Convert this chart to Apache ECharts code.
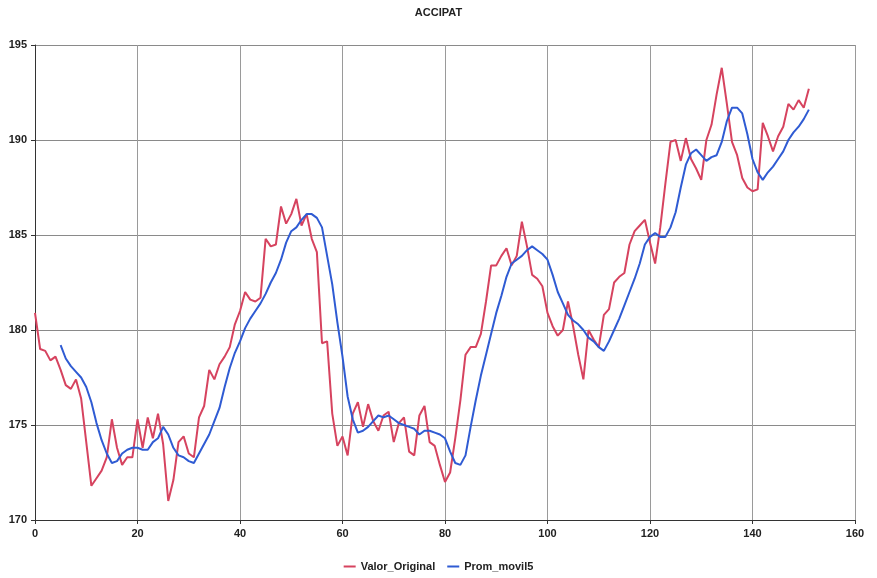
<!DOCTYPE html>
<html>
<head>
<meta charset="utf-8">
<script src="https://cdn.jsdelivr.net/npm/echarts@6/dist/echarts.min.js"></script>
<style>
  html, body { margin: 0; padding: 0; background: #ffffff; }
  #chart { width: 877px; height: 578px; }
</style>
</head>
<body>
<div id="chart"></div>
<script>
const chartTitle = "ACCIPAT";
const seriesNames = ["Valor_Original", "Prom_movil5"];

// Valor_Original, x = 0, 1, 2, ...
const valorOriginal = [
  180.9, 179.0, 178.9, 178.4, 178.6, 177.9, 177.1, 176.9, 177.4, 176.4,
  174.1, 171.8, 172.2, 172.6, 173.3, 175.3, 173.8, 172.9, 173.3, 173.3,
  175.3, 173.8, 175.4, 174.3, 175.6, 174.0, 171.0, 172.1, 174.1, 174.4,
  173.5, 173.3, 175.4, 176.0, 177.9, 177.4, 178.2, 178.6, 179.1, 180.3,
  181.0, 182.0, 181.6, 181.5, 181.7, 184.8, 184.4, 184.5, 186.5, 185.6,
  186.1, 186.9, 185.5, 186.1, 184.8, 184.1, 179.3, 179.4, 175.6, 173.9,
  174.4, 173.4, 175.6, 176.2, 174.9, 176.1, 175.2, 174.7, 175.5, 175.7,
  174.1, 175.1, 175.4, 173.6, 173.4, 175.5, 176.0, 174.1, 173.9, 172.9,
  172.0, 172.5, 174.3, 176.3, 178.7, 179.1, 179.1, 179.8, 181.5, 183.4,
  183.4, 183.9, 184.3, 183.4, 183.9, 185.7, 184.4, 182.9, 182.7, 182.3,
  180.9, 180.2, 179.7, 180.0, 181.5, 180.2, 178.7, 177.4, 180.0, 179.5,
  179.1, 180.8, 181.1, 182.5, 182.8, 183.0, 184.5, 185.2, 185.5, 185.8,
  184.6, 183.5, 185.4, 187.7, 189.9, 190.0, 188.9, 190.1, 189.0, 188.5,
  187.9, 190.0, 190.8, 192.4, 193.8, 191.9, 189.9, 189.2, 188.0, 187.5,
  187.3, 187.4, 190.9, 190.2, 189.4, 190.2, 190.7, 191.9, 191.6, 192.1,
  191.7, 192.7
];

// Prom_movil5, first value at x = 5
const promMovilStartX = 5;
const promMovil5 = [
  179.2, 178.5, 178.1, 177.8, 177.5, 177.0, 176.2, 175.1, 174.2, 173.5,
  173.0, 173.1, 173.5, 173.7, 173.8, 173.8, 173.7, 173.7, 174.1, 174.3,
  174.9, 174.5, 173.8, 173.4, 173.3, 173.1, 173.0, 173.5, 174.0, 174.5,
  175.2, 175.9, 177.0, 178.0, 178.8, 179.4, 180.1, 180.6, 181.0, 181.4,
  181.9, 182.5, 183.0, 183.7, 184.6, 185.2, 185.4, 185.8, 186.1, 186.1,
  185.9, 185.4, 183.9, 182.4, 180.4, 178.6, 176.5, 175.3, 174.6, 174.7,
  174.9, 175.2, 175.5, 175.4, 175.5, 175.3, 175.1, 175.0, 174.9, 174.8,
  174.5, 174.7, 174.7, 174.6, 174.5, 174.3, 173.6, 173.0, 172.9, 173.4,
  174.9, 176.3, 177.6, 178.7, 179.8, 180.9, 181.8, 182.8, 183.5, 183.7,
  183.9, 184.2, 184.4, 184.2, 184.0, 183.7, 182.9, 182.0, 181.4, 180.8,
  180.5, 180.3, 180.0, 179.6, 179.4, 179.1, 178.9, 179.4, 180.0, 180.6,
  181.3, 182.0, 182.7, 183.5, 184.5, 184.9, 185.1, 184.9, 184.9, 185.4,
  186.2, 187.5, 188.7, 189.3, 189.5, 189.2, 188.9, 189.1, 189.2, 189.9,
  191.0, 191.7, 191.7, 191.4, 190.3, 189.0, 188.3, 187.9, 188.3, 188.6,
  189.0, 189.4, 190.0, 190.4, 190.7, 191.1, 191.6
];

// Axis settings
const xMin = 0, xMax = 160, xStep = 20;
const yMin = 170, yMax = 195, yStep = 5;

const redData = valorOriginal.map((v, i) => [i, v]);
const blueData = promMovil5.map((v, i) => [i + promMovilStartX, v]);

const chart = echarts.init(document.getElementById('chart'), null, { renderer: 'canvas' });

const axisLabelStyle = {
  color: '#222',
  fontFamily: 'Liberation Sans, Arial, sans-serif',
  fontSize: 11,
  fontWeight: 'bold'
};

chart.setOption({
  animation: false,
  backgroundColor: '#ffffff',
  title: {
    text: chartTitle,
    left: 'center',
    top: 2,
    textStyle: {
      fontFamily: 'Liberation Sans, Arial, sans-serif',
      fontSize: 11,
      fontWeight: 'bold',
      color: '#222'
    }
  },
  legend: {
    bottom: 1,
    left: 'center',
    icon: 'rect',
    itemWidth: 12,
    itemHeight: 2,
    itemGap: 12,
    textStyle: {
      fontFamily: 'Liberation Sans, Arial, sans-serif',
      fontSize: 11,
      fontWeight: 'bold',
      color: '#222'
    },
    data: seriesNames
  },
  grid: {
    left: 35,
    right: 22,
    top: 45,
    bottom: 58,
    containLabel: false
  },
  xAxis: {
    type: 'value',
    min: xMin,
    max: xMax,
    interval: xStep,
    axisLine: { show: true, onZero: false, lineStyle: { color: '#333', width: 1 } },
    axisTick: { show: true, length: 4, lineStyle: { color: '#333' } },
    axisLabel: Object.assign({ margin: 8 }, axisLabelStyle),
    splitLine: { show: true, lineStyle: { color: '#9a9a9a', width: 1 } }
  },
  yAxis: {
    type: 'value',
    min: yMin,
    max: yMax,
    interval: yStep,
    axisLine: { show: true, onZero: false, lineStyle: { color: '#333', width: 1 } },
    axisTick: { show: true, length: 4, lineStyle: { color: '#333' } },
    axisLabel: Object.assign({ margin: 8 }, axisLabelStyle),
    splitLine: { show: true, lineStyle: { color: '#8a8a8a', width: 1 } }
  },
  series: [
    {
      name: seriesNames[0],
      type: 'line',
      data: redData,
      showSymbol: false,
      symbol: 'none',
      lineStyle: { color: '#d6435f', width: 2 },
      itemStyle: { color: '#d6435f' },
      z: 2
    },
    {
      name: seriesNames[1],
      type: 'line',
      data: blueData,
      showSymbol: false,
      symbol: 'none',
      lineStyle: { color: '#2f5bd3', width: 2 },
      itemStyle: { color: '#2f5bd3' },
      z: 3
    }
  ]
});
</script>
</body>
</html>
